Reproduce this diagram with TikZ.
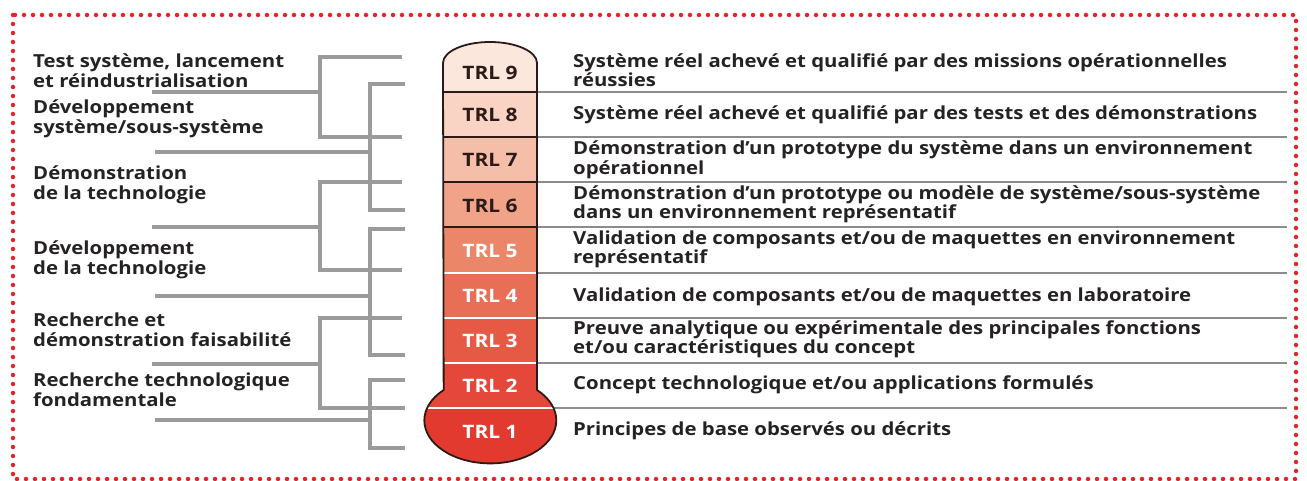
\documentclass[tikz,border=0pt]{standalone}
\usepackage{fontspec}
\setmainfont{Open Sans}[FakeStretch=1.13]
\usepackage{tikz}
\usetikzlibrary{calc}
\usepackage{xcolor}
\definecolor{dotred}{HTML}{E0262B}
\definecolor{brgray}{HTML}{9B9B9B}
\definecolor{sepgray}{HTML}{8C8C8C}
\definecolor{txtdark}{HTML}{262223}
\definecolor{tubeline}{HTML}{2B1A18}
\definecolor{trlnine}{HTML}{FCE7DD}
\definecolor{trleight}{HTML}{F9D4C4}
\definecolor{trlseven}{HTML}{F5BEA8}
\definecolor{trlsix}{HTML}{F0A388}
\definecolor{trlfive}{HTML}{EB8768}
\definecolor{trlfour}{HTML}{E86F55}
\definecolor{trlthree}{HTML}{E65944}
\definecolor{trltwo}{HTML}{E5473A}
\definecolor{trlone}{HTML}{E33A30}

\begin{document}
\begin{tikzpicture}[x=1pt,y=-1pt,
  bracket/.style={draw=brgray,line width=3.6pt},
  rowsep/.style={draw=sepgray,line width=1.8pt},
  leftlabel/.style={anchor=west,align=left,inner sep=0pt,text=txtdark,
    font=\fontsize{18}{19.5}\selectfont\bfseries},
  desc/.style={anchor=west,align=left,inner sep=0pt,text=txtdark,
    font=\fontsize{18}{19.5}\selectfont\bfseries},
  trl/.style={inner sep=0pt,font=\fontsize{18.5}{20}\selectfont\bfseries}]
  \useasboundingbox (0,0) rectangle (1307,481);
  % dotted frame
  \draw[dotred,line width=4.5pt,line cap=round,dash pattern=on 0pt off 9pt]
    (13,15) rectangle (1296,479);

  % brackets on the left
  \coordinate (sA) at (152,92);
  \coordinate (sB) at (155,152);
  \coordinate (sC) at (152,227);
  \coordinate (sD) at (155,296);
  \coordinate (sE) at (152,364);
  \coordinate (sF) at (155,420);
  \draw[bracket] (402,57)--(320,57)--(320,137)--(402,137);
  \draw[bracket] (sA)--(320,92);
  \draw[bracket] (405,84)--(370,84)--(370,210)--(405,210);
  \draw[bracket] (sB)--(370,152);
  \draw[bracket] (402,182)--(320,182)--(320,270)--(402,270);
  \draw[bracket] (sC)--(320,227);
  \draw[bracket] (405,229)--(370,229)--(370,355)--(405,355);
  \draw[bracket] (sD)--(370,296);
  \draw[bracket] (402,318)--(320,318)--(320,408)--(405,408);
  \draw[bracket] (sE)--(320,364);
  \draw[bracket] (405,380)--(370,380)--(370,448)--(405,448);
  \draw[bracket] (sF)--(370,420);

  \node[leftlabel] (test) at (33,70.5) {Test système, lancement\\et réindustrialisation};
  \node[leftlabel] (devsys) at (33,119) {Développement\\système/sous-système};
  \node[leftlabel] (demo) at (33,185) {Démonstration\\de la technologie};
  \node[leftlabel] (devtech) at (33,260) {Développement\\de la technologie};
  \node[leftlabel] (rech) at (33,329.5) {Recherche et\\démonstration faisabilité};
  \node[leftlabel] (fond) at (33,389.5) {Recherche technologique\\fondamentale};

  % row separators on the right
  \draw[rowsep] (537,92)--(1287,92);
  \draw[rowsep] (537,137)--(1287,137);
  \draw[rowsep] (537,182)--(1287,182);
  \draw[rowsep] (537,227)--(1287,227);
  \draw[rowsep] (537,273)--(1287,273);
  \draw[rowsep] (537,318)--(1287,318);
  \draw[rowsep] (537,363)--(1287,363);
  \draw[rowsep] (553,408)--(1287,408);

  % thermometer
  \begin{scope}
    \clip (443,63) arc[start angle=180,end angle=0,x radius=47pt,y radius=21pt]
      -- (537,390) arc[start angle=45,end angle=-225,x radius=66pt,y radius=43pt] -- cycle;
    \path[fill=trlnine] (400,30) rectangle (580,92);
    \path[fill=trleight] (400,92) rectangle (580,137);
    \path[fill=trlseven] (400,137) rectangle (580,182);
    \path[fill=trlsix] (400,182) rectangle (580,227);
    \path[fill=trlfive] (400,227) rectangle (580,273);
    \path[fill=trlfour] (400,273) rectangle (580,318);
    \path[fill=trlthree] (400,318) rectangle (580,363);
    \path[fill=trltwo] (400,363) rectangle (580,408);
    \path[fill=trlone] (400,408) rectangle (580,475);
    \draw[tubeline,line width=1.8pt] (400,92)--(580,92);
    \draw[tubeline,line width=1.8pt] (400,137)--(580,137);
    \draw[tubeline,line width=1.8pt] (400,182)--(580,182);
    \draw[tubeline,line width=1.8pt] (400,227)--(580,227);
    \draw[white,line width=1.8pt] (400,273)--(580,273);
    \draw[white,line width=1.8pt] (400,318)--(580,318);
    \draw[white,line width=1.8pt] (400,363)--(580,363);
    \draw[white,line width=1.8pt] (400,408)--(580,408);
  \end{scope}
  \draw[tubeline,line width=1.8pt]
    (443,63) arc[start angle=180,end angle=0,x radius=47pt,y radius=21pt]
    -- (537,390) arc[start angle=45,end angle=-225,x radius=66pt,y radius=43pt] -- cycle;

  \node[trl,text=tubeline] (t9) at (490,73) {TRL 9};
  \node[trl,text=tubeline] (t8) at (490,115) {TRL 8};
  \node[trl,text=tubeline] (t7) at (490,160) {TRL 7};
  \node[trl,text=tubeline] (t6) at (490,206) {TRL 6};
  \node[trl,text=white] (t5) at (490,251) {TRL 5};
  \node[trl,text=white] (t4) at (490,296) {TRL 4};
  \node[trl,text=white] (t3) at (490,341) {TRL 3};
  \node[trl,text=white] (t2) at (490,386) {TRL 2};
  \node[trl,text=white] (t1) at (490,432) {TRL 1};

  \node[desc] (d9) at (573,70) {Système réel achevé et qualifié par des missions opérationnelles\\réussies};
  \node[desc] (d8) at (573,115) {Système réel achevé et qualifié par des tests et des démonstrations};
  \node[desc] (d7) at (573,160) {Démonstration d’un prototype du système dans un environnement\\opérationnel};
  \node[desc] (d6) at (573,204.5) {Démonstration d’un prototype ou modèle de système/sous-système\\dans un environnement représentatif};
  \node[desc] (d5) at (573,249.5) {Validation de composants et/ou de maquettes en environnement\\représentatif};
  \node[desc] (d4) at (573,297) {Validation de composants et/ou de maquettes en laboratoire};
  \node[desc] (d3) at (573,339.5) {Preuve analytique ou expérimentale des principales fonctions\\et/ou caractéristiques du concept};
  \node[desc] (d2) at (573,385) {Concept technologique et/ou applications formulés};
  \node[desc] (d1) at (573,431) {Principes de base observés ou décrits};
\end{tikzpicture}
\end{document}
